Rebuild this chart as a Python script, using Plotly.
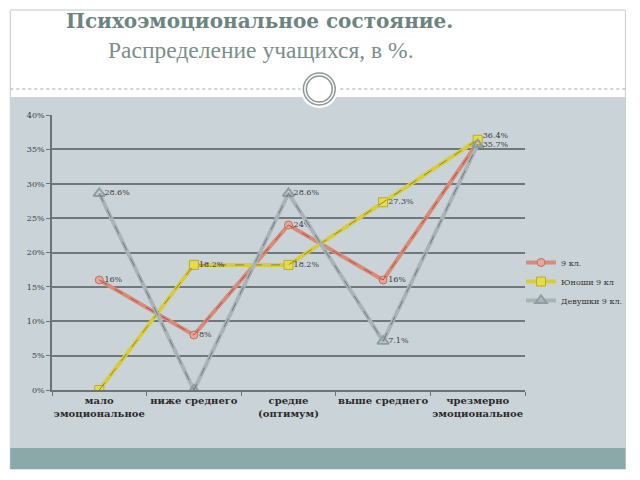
import plotly.graph_objects as go

categories = ["мало<br>эмоциональное", "ниже среднего", "средне<br>(оптимум)", "выше среднего", "чрезмерно<br>эмоциональное"]
s_all = [16, 8, 24, 16, 36]
s_boys = [0, 18.2, 18.2, 27.3, 36.4]
s_girls = [28.6, 0, 28.6, 7.1, 35.7]
lbl_all = ["16%", "8%", "24%", "16%", ""]
lbl_boys = ["", "18.2%", "18.2%", "27.3%", "36.4%"]
lbl_girls = ["28.6%", "", "28.6%", "7.1%", "35.7%"]
names = ["9 кл.", "Юноши 9 кл", "Девушки 9 кл."]
y_ticks = [0, 5, 10, 15, 20, 25, 30, 35, 40]

W, H = 640, 480
L, R, T, B = 52, 528, 115, 390
pw, ph = R - L, B - T

def px(x):
    return (x - L) / pw

def py(y):
    return (B - y) / ph

FONT = "DejaVu Serif"
fig = go.Figure()

series = [
    (s_all, lbl_all, names[0], "#d98a78", "#a8584a",
     dict(symbol="circle", size=8, color="#e6a699", line=dict(color="#c0705f", width=1)),
     ["middle right"] * 5),
    (s_boys, lbl_boys, names[1], "#d8cc3c", "#8c8a2a",
     dict(symbol="square", size=9, color="#e6dc4a", line=dict(color="#b8ab2a", width=1)),
     ["middle right"] * 4 + ["top right"]),
    (s_girls, lbl_girls, names[2], "#a9b4b8", "#6f7a7e",
     dict(symbol="triangle-up-open", size=10, color="#8f9ca0", line=dict(width=2)),
     ["middle right"] * 5),
]

for ys, lbls, nm, col, dark, mk, tpos in series:
    fig.add_trace(go.Scatter(
        x=categories, y=ys, mode="lines+markers", name=nm,
        line=dict(color=col, width=4), marker=mk, showlegend=True,
    ))
    fig.add_trace(go.Scatter(
        x=categories, y=ys, mode="lines+text", showlegend=False, hoverinfo="skip",
        line=dict(color=dark, width=1, dash="dash"),
        text=["  " + t if t else "" for t in lbls], textposition=tpos,
        textfont=dict(family=FONT, size=8, color="#3a3a3a"),
    ))

shapes = [
    dict(type="rect", xref="paper", yref="paper", x0=px(10), x1=px(629), y0=py(10), y1=py(469),
         line=dict(color="#c4c8c8", width=1), fillcolor="white", layer="below"),
    dict(type="rect", xref="paper", yref="paper", x0=px(10), x1=px(629), y0=py(97), y1=py(448),
         line=dict(width=0), fillcolor="#cad4d8", layer="below"),
    dict(type="rect", xref="paper", yref="paper", x0=px(10), x1=px(629), y0=py(448), y1=py(469),
         line=dict(width=0), fillcolor="#8ba9a8", layer="below"),
    dict(type="line", xref="paper", yref="paper", x0=px(10), x1=px(629), y0=py(89), y1=py(89),
         line=dict(color="#a0a8a8", width=1, dash="dot"), layer="above"),
    dict(type="circle", xref="paper", yref="paper", x0=px(302), x1=px(340), y0=py(70), y1=py(108),
         line=dict(width=0), fillcolor="white", layer="above"),
    dict(type="circle", xref="paper", yref="paper", x0=px(305), x1=px(337), y0=py(73), y1=py(105),
         line=dict(color="#8c9896", width=1.5), fillcolor="white", layer="above"),
    dict(type="circle", xref="paper", yref="paper", x0=px(308), x1=px(334), y0=py(76), y1=py(102),
         line=dict(color="#8c9896", width=1.5), fillcolor="rgba(0,0,0,0)", layer="above"),
]

annotations = [
    dict(text="<b>Психоэмоциональное состояние.</b>", xref="paper", yref="paper",
         x=px(261), y=py(21), xanchor="center", yanchor="middle", showarrow=False,
         font=dict(family=FONT, size=20, color="#6c847f")),
    dict(text="Распределение учащихся, в %.", xref="paper", yref="paper",
         x=px(262), y=py(50), xanchor="center", yanchor="middle", showarrow=False,
         font=dict(family="Liberation Serif", size=23.5, color="#7b8e8a")),
]

fig.update_layout(
    width=W, height=H,
    margin=dict(l=L, r=W - R, t=T, b=H - B),
    paper_bgcolor="white", plot_bgcolor="rgba(0,0,0,0)",
    shapes=shapes, annotations=annotations,
    showlegend=True,
    legend=dict(x=px(524), y=py(248), xanchor="left", yanchor="top",
                bgcolor="rgba(0,0,0,0)", font=dict(family=FONT, size=8, color="#333"),
                itemwidth=30, tracegroupgap=0),
    xaxis=dict(type="category", tickson="boundaries", ticks="outside", ticklen=4,
               tickcolor="#6a7478", showline=True, linecolor="#6a7478", linewidth=1.5,
               showgrid=False, range=[-0.5, 4.5], tickangle=0,
               tickprefix="<b>", ticksuffix="</b>",
               tickfont=dict(family=FONT, size=10, color="#2a2a2a")),
    yaxis=dict(range=[0, 40], tickvals=y_ticks, ticktext=[f"{v}%" for v in y_ticks],
               ticks="outside", ticklen=4, tickcolor="#6a7478",
               showline=True, linecolor="#6a7478", linewidth=1.5,
               showgrid=True, gridcolor="#6f797d", gridwidth=1.5, zeroline=False,
               tickfont=dict(family=FONT, size=8, color="#3a3a3a")),
)

fig.write_html("out.html")
